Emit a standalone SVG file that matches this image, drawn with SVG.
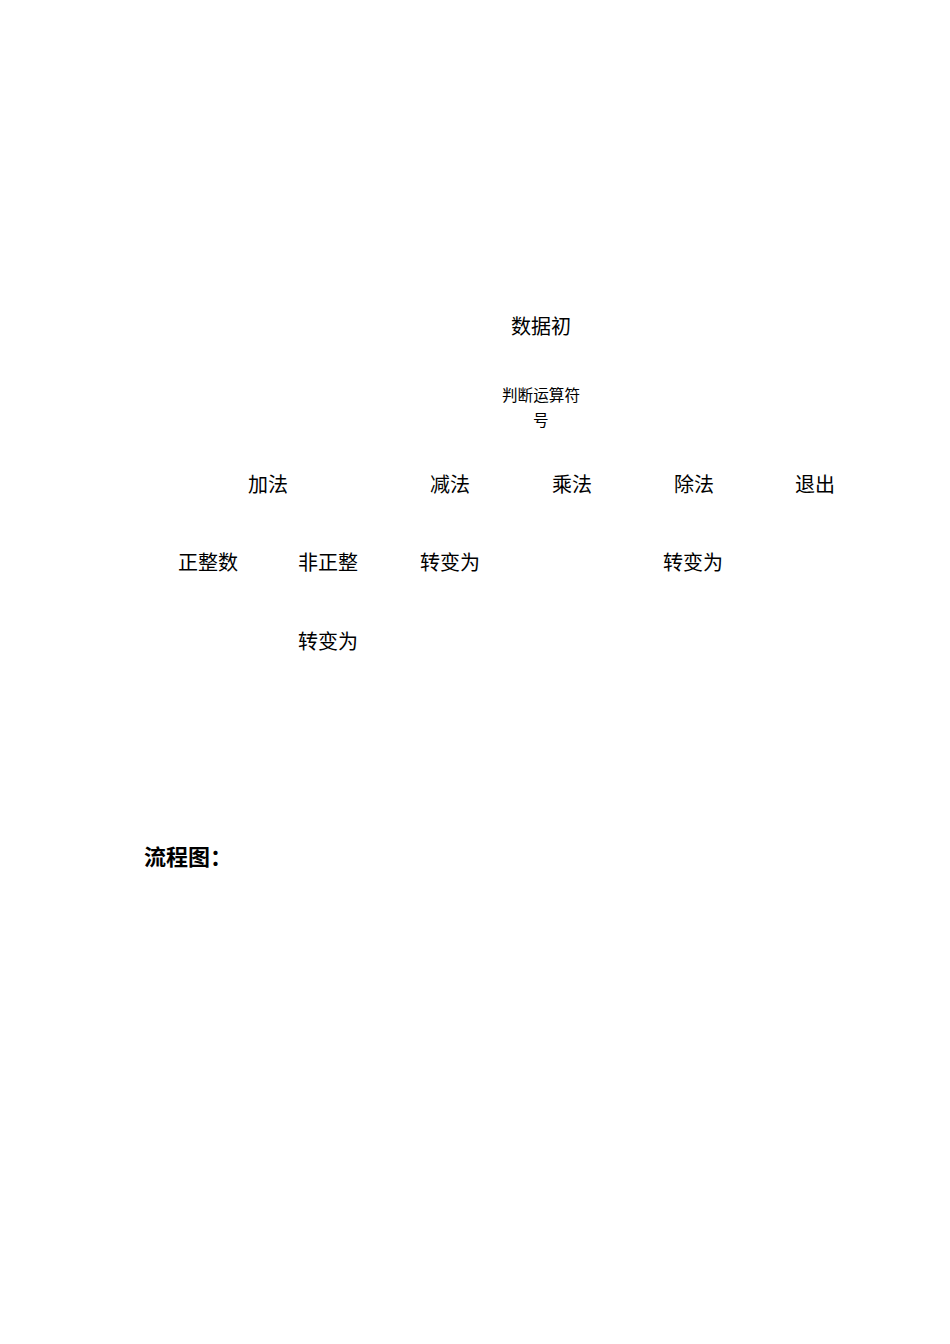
<svg xmlns="http://www.w3.org/2000/svg" width="950" height="1344" viewBox="0 0 950 1344">
<style>
text{font-family:"Noto Sans CJK SC","Noto Sans",sans-serif;fill:#000;font-size:20px}
.s{font-size:15.6px}
.h{font-size:22px;font-weight:bold}
</style>
<rect width="950" height="1344" fill="#fff"/>
<g id="init"><text x="511" y="334">数据初</text></g>
<g id="judge"><text x="502" y="401" class="s">判断运算符</text><text x="533" y="426" class="s">号</text></g>
<g id="add"><text x="248" y="492">加法</text></g>
<g id="sub"><text x="430" y="492">减法</text></g>
<g id="mul"><text x="552" y="492">乘法</text></g>
<g id="div"><text x="674" y="492">除法</text></g>
<g id="exit"><text x="795" y="492">退出</text></g>
<g id="posint"><text x="178" y="570">正整数</text></g>
<g id="nonposint"><text x="298" y="570">非正整</text></g>
<g id="conv1"><text x="420" y="570">转变为</text></g>
<g id="conv2"><text x="663" y="570">转变为</text></g>
<g id="conv3"><text x="298" y="649">转变为</text></g>
<g id="connectors"></g>
<g id="title"><text x="144" y="865" class="h">流程图：</text></g>
</svg>
